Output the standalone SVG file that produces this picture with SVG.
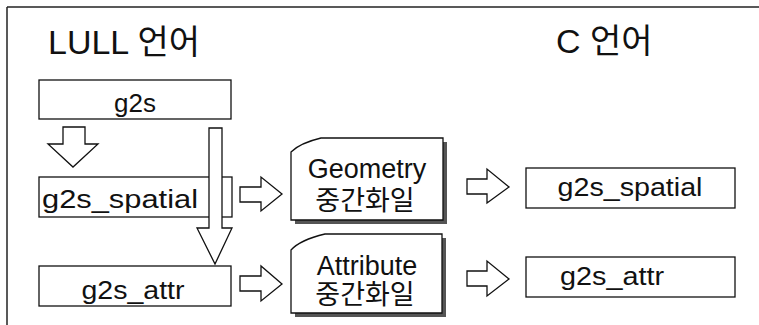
<svg xmlns="http://www.w3.org/2000/svg" width="759" height="325" viewBox="0 0 759 325">
<style>
.frame{stroke:#222;stroke-width:1.5;fill:none}
.box{fill:#fff;stroke:#111;stroke-width:1.3}
.arr{fill:#fff;stroke:#111;stroke-width:1.3;stroke-linejoin:miter}
.shadow{fill:#555}
.t{font-family:"Liberation Sans","Noto Sans CJK KR",sans-serif;fill:#111;text-anchor:middle}
.title{font-size:34px;text-anchor:start}
.lbl{font-size:26px}
.doc{font-size:27px}
</style>
<rect width="759" height="325" fill="#fff"/>
<g id="frame">
<line class="frame" x1="7" y1="7" x2="759" y2="7"/>
<line class="frame" x1="7" y1="7" x2="7" y2="325"/>
</g>
<g id="title-lull"><text class="t title" x="48" y="54">LULL 언어</text></g>
<g id="title-c"><text class="t title" x="556" y="53">C 언어</text></g>
<g id="g2s">
<rect class="box" x="39" y="80" width="192" height="39"/>
<text class="t lbl" x="135" y="112">g2s</text>
</g>
<g id="g2s_spatial_l">
<rect class="box" x="39" y="177" width="193" height="40"/>
<text class="t lbl" x="120" y="208" textLength="156" lengthAdjust="spacingAndGlyphs">g2s_spatial</text>
</g>
<g id="g2s_attr_l">
<rect class="box" x="39" y="266" width="192" height="40"/>
<text class="t lbl" x="133" y="299" textLength="103" lengthAdjust="spacingAndGlyphs">g2s_attr</text>
</g>
<g id="geometry">
<path class="shadow" d="M295,220 L443,220 L443,142 L447,142 L447,224 L295,224 Z"/>
<path class="box" d="M291,152 Q300,143 321,138 L443,138 L443,220 L291,220 Z"/>
<text class="t doc" x="367" y="178">Geometry</text>
<text class="t doc" x="365" y="210">중간화일</text>
</g>
<g id="attribute">
<path class="shadow" d="M295,313 L442,313 L442,238 L446,238 L446,317 L295,317 Z"/>
<path class="box" d="M291,250 Q300,240 325,234 L442,234 L442,313 L291,313 Z"/>
<text class="t doc" x="367" y="275">Attribute</text>
<text class="t doc" x="365" y="304">중간화일</text>
</g>
<g id="g2s_spatial_r">
<rect class="box" x="526" y="168" width="209" height="40"/>
<text class="t lbl" x="630" y="196" textLength="145" lengthAdjust="spacingAndGlyphs">g2s_spatial</text>
</g>
<g id="g2s_attr_r">
<rect class="box" x="526" y="257" width="209" height="40"/>
<text class="t lbl" x="612" y="285" textLength="104" lengthAdjust="spacingAndGlyphs">g2s_attr</text>
</g>
<g id="connectors">
<polygon class="arr" points="63,127 85,127 85,144 98,144 73,167 48,144 63,144"/>
<polygon class="arr" points="209,128 222,128 222,228 232,228 215,264 197,228 209,228"/>
<polygon class="arr" points="240,187 261,187 261,177 282,194 261,211 261,202 240,202"/>
<polygon class="arr" points="240,276 261,276 261,266 282,284 261,301 261,291 240,291"/>
<polygon class="arr" points="467,179 487,179 487,169 509,187 487,203 487,194 467,194"/>
<polygon class="arr" points="467,271 487,271 487,261 509,279 487,296 487,286 467,286"/>
</g>
</svg>
